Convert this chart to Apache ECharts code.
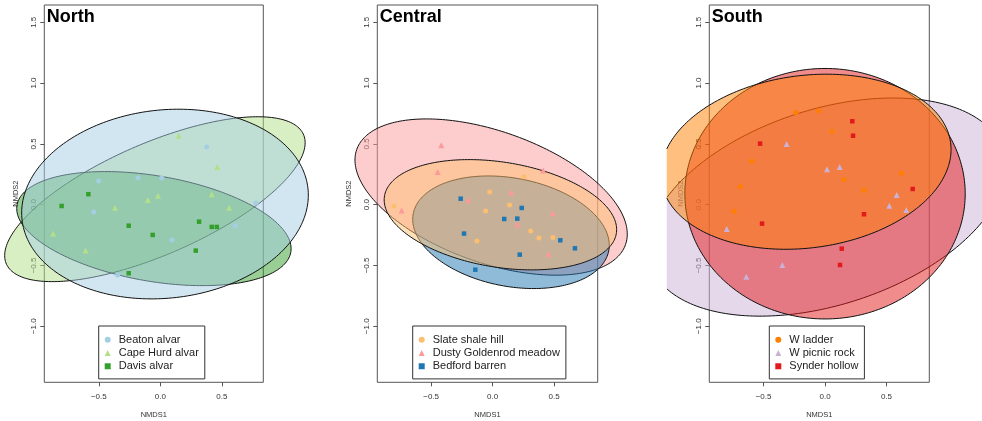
<!DOCTYPE html>
<html><head><meta charset="utf-8">
<script src="https://cdn.jsdelivr.net/npm/echarts@6/dist/echarts.min.js"></script>
<style>html,body{margin:0;padding:0;background:#fff}#c{width:982px;height:421px}</style>
</head><body><div id="c"></div>
<script>
// ---- categories / labels ----
const panelTitles = ['North', 'Central', 'South'];
const northGroups = ['Beaton alvar', 'Cape Hurd alvar', 'Davis alvar'];
const centralGroups = ['Slate shale hill', 'Dusty Goldenrod meadow', 'Bedford barren'];
const southGroups = ['W ladder', 'W picnic rock', 'Synder hollow'];
const xTickValues = [-0.5, 0, 0.5];
const yTickValues = [-1.0, -0.5, 0, 0.5, 1.0, 1.5];

// ---- site scores (NMDS1, NMDS2) ----
const beatonAlvar = [[0.377,0.474],[-0.501,0.195],[-0.181,0.220],[0.011,0.220],[-0.541,-0.060],[0.776,0.014],[0.610,-0.173],[0.095,-0.290],[-0.346,-0.578]];
const capeHurdAlvar = [[0.150,0.567],[0.461,0.310],[-0.102,0.039],[-0.019,0.074],[0.418,0.086],[-0.368,-0.025],[0.559,-0.025],[-0.872,-0.238],[-0.607,-0.378]];
const davisAlvar = [[-0.585,0.086],[-0.802,-0.011],[-0.257,-0.173],[-0.062,-0.249],[0.315,-0.140],[0.418,-0.183],[0.459,-0.183],[0.288,-0.378],[-0.257,-0.564]];

const slateShaleHill = [[-0.024,0.104],[0.254,0.230],[0.138,-0.002],[-0.057,-0.052],[-0.802,-0.011],[0.309,-0.216],[0.376,-0.274],[0.490,-0.271],[-0.128,-0.299]];
const dustyGoldenrodMeadow = [[-0.418,0.488],[-0.447,0.269],[0.411,0.280],[0.151,0.099],[-0.198,0.039],[-0.740,-0.049],[0.488,-0.071],[0.200,-0.161],[0.455,-0.405]];
const bedfordBarren = [[-0.260,0.049],[0.236,-0.027],[0.094,-0.118],[0.200,-0.115],[-0.233,-0.238],[0.550,-0.293],[0.669,-0.359],[0.220,-0.411],[-0.141,-0.535]];

const wLadder = [[-0.238,0.757],[-0.051,0.773],[0.057,0.603],[-0.596,0.357],[-0.688,0.148],[-0.740,-0.054],[0.154,0.206],[0.317,0.118],[0.620,0.258]];
const wPicnicRock = [[-0.312,0.499],[0.016,0.291],[0.119,0.310],[0.583,0.080],[0.523,-0.008],[0.661,-0.044],[-0.799,-0.200],[-0.347,-0.496],[-0.640,-0.592]];
const synderHollow = [[0.222,0.686],[0.228,0.567],[-0.528,0.502],[0.713,0.129],[0.317,-0.079],[-0.512,-0.156],[0.136,-0.362],[0.122,-0.496]];

// ---- group ellipses: [centerX, centerY, halfWidth, halfHeight, correlation] ----
const ellipseBeaton = [0.038, 0.005, 1.165, 0.780, 0.094];
const ellipseCapeHurd = [-0.044, 0.045, 1.221, 0.678, 0.684];
const ellipseDavis = [-0.052, -0.197, 1.115, 0.469, -0.352];
const ellipseSlate = [0.063, -0.083, 0.945, 0.4535, -0.27];
const ellipseDusty = [-0.0125, 0.0625, 1.107, 0.6425, -0.474];
const ellipseBedford = [0.149, -0.227, 0.799, 0.463, -0.23];
const ellipseWLadder = [-0.155, 0.353, 1.18, 0.72, 0.14];
const ellipseWPicnic = [0.0125, -0.02, 1.455, 0.897, 0.371];
const ellipseSynder = [0.0, 0.09, 1.14, 1.03, 0.0];

// ---- styling / layout ----
const colors = {
  'Beaton alvar': '#a6cee3', 'Cape Hurd alvar': '#b2df8a', 'Davis alvar': '#33a02c',
  'Slate shale hill': '#fdbf6f', 'Dusty Goldenrod meadow': '#fb9a99', 'Bedford barren': '#1f78b4',
  'W ladder': '#ff7f00', 'W picnic rock': '#cab2d6', 'Synder hollow': '#e31a1c'
};
const shapes = ['circle', 'triangle', 'rect'];
const symSizes = [5, 6, 4.5];
const FONT = '"Liberation Sans", Arial, sans-serif';

const panels = [
  { groups: northGroups, pts: [beatonAlvar, capeHurdAlvar, davisAlvar],
    ell: [ellipseBeaton, ellipseCapeHurd, ellipseDavis], order: [1, 2, 0],
    xMin: -0.943, xMax: 0.837, left: 44.3, width: 219, legLeft: 98.7, clipX: null },
  { groups: centralGroups, pts: [slateShaleHill, dustyGoldenrodMeadow, bedfordBarren],
    ell: [ellipseSlate, ellipseDusty, ellipseBedford], order: [1, 2, 0],
    xMin: -0.938, xMax: 0.854, left: 377.3, width: 220.4, legLeft: 412.7, clipX: null },
  { groups: southGroups, pts: [wLadder, wPicnicRock, synderHollow],
    ell: [ellipseWLadder, ellipseWPicnic, ellipseSynder], order: [1, 2, 0],
    xMin: -0.941, xMax: 0.848, left: 709.3, width: 220, legLeft: 769.3, clipX: -1.287 }
];
const yMin = -1.461, yMax = 1.642;

function rgba(hex, a) {
  const n = parseInt(hex.slice(1), 16);
  return 'rgba(' + (n >> 16 & 255) + ',' + (n >> 8 & 255) + ',' + (n & 255) + ',' + a + ')';
}
function fmt(v) { return v.toFixed(1).replace('-', '\u2212'); }

function ellipseRenderer(fill, clipX) {
  return function (params, api) {
    const cx = api.value(0), cy = api.value(1), hw = api.value(2), hh = api.value(3), r = api.value(4);
    const s = Math.sqrt(1 - r * r);
    const N = 240, pts = [];
    for (let i = 0; i < N; i++) {
      const t = 2 * Math.PI * i / N;
      pts.push(api.coord([cx + hw * Math.cos(t), cy + hh * (r * Math.cos(t) + s * Math.sin(t))]));
    }
    const stroke = '#111';
    if (clipX == null) {
      return { type: 'polygon', shape: { points: pts }, style: { fill: fill, stroke: stroke, lineWidth: 1 } };
    }
    const lim = api.coord([clipX, 0])[0];
    const fillPts = pts.map(p => [Math.max(p[0], lim), p[1]]);
    const segs = []; let cur = [];
    for (let i = 0; i <= N; i++) {
      const p = pts[i % N];
      if (p[0] >= lim) cur.push(p); else { if (cur.length > 1) segs.push(cur); cur = []; }
    }
    if (cur.length > 1) segs.push(cur);
    const children = [{ type: 'polygon', shape: { points: fillPts }, style: { fill: fill, stroke: null } }];
    segs.forEach(sg => children.push({ type: 'polyline', shape: { points: sg }, style: { stroke: stroke, lineWidth: 1, fill: null } }));
    return { type: 'group', children: children };
  };
}

const grid = [], xAxis = [], yAxis = [], series = [], legend = [], graphic = [];
panels.forEach((p, i) => {
  grid.push({ left: p.left, top: 5, width: p.width, height: 377.3, show: true,
    containLabel: false, outerBoundsMode: 'none',
    borderColor: '#555', borderWidth: 1, backgroundColor: 'transparent' });
  xAxis.push({ gridIndex: i, type: 'value', min: p.xMin, max: p.xMax,
    axisLine: { show: false, onZero: false }, splitLine: { show: false },
    axisTick: { show: true, length: 4, lineStyle: { color: '#555' }, customValues: xTickValues },
    axisLabel: { customValues: xTickValues, fontSize: 8, color: '#333', margin: 10, fontFamily: FONT, formatter: fmt },
    name: 'NMDS1', nameLocation: 'middle', nameGap: 29,
    nameTextStyle: { fontSize: 7.5, color: '#333', fontFamily: FONT } });
  yAxis.push({ gridIndex: i, type: 'value', min: yMin, max: yMax,
    axisLine: { show: false, onZero: false }, splitLine: { show: false },
    axisTick: { show: true, length: 4, lineStyle: { color: '#555' }, customValues: yTickValues },
    axisLabel: { customValues: yTickValues, fontSize: 8, color: '#333', margin: 7, rotate: 90, fontFamily: FONT, formatter: fmt },
    name: 'NMDS2', nameLocation: 'middle', nameGap: 24, nameRotate: 90,
    nameTextStyle: { fontSize: 7.5, color: '#333', fontFamily: FONT } });
  p.order.forEach(k => {
    series.push({ type: 'custom', name: p.groups[k] + ' ellipse', xAxisIndex: i, yAxisIndex: i,
      clip: false, silent: true, z: 2, dimensions: ['cx', 'cy', 'hw', 'hh', 'r'], encode: { x: 0, y: 1 },
      data: [p.ell[k]], renderItem: ellipseRenderer(rgba(colors[p.groups[k]], 0.5), p.clipX) });
  });
  p.groups.forEach((g, k) => {
    series.push({ type: 'scatter', name: g, xAxisIndex: i, yAxisIndex: i, z: 3,
      symbol: shapes[k], symbolSize: symSizes[k], itemStyle: { color: colors[g], opacity: 1 },
      data: p.pts[k] });
  });
  legend.push({ data: p.groups, orient: 'vertical', left: p.legLeft, top: 326,
    selectedMode: false, backgroundColor: '#fff', borderColor: '#333', borderWidth: 1,
    padding: [7, 6, 6, 6], itemWidth: 6, itemHeight: 6, itemGap: 0,
    textStyle: { fontSize: 11, color: '#222', lineHeight: 13.3, fontFamily: FONT, padding: [0, 0, 0, 3] } });
  graphic.push({ type: 'text', x: p.left + 2.4, y: 17, z: 10,
    style: { text: panelTitles[i], fontSize: 18, fontWeight: 'bold', fontFamily: FONT, fill: '#000',
      align: 'left', verticalAlign: 'middle', textAlign: 'left', textVerticalAlign: 'middle' } });
});

const chart = echarts.init(document.getElementById('c'), null, { renderer: 'canvas' });
chart.setOption({ animation: false, backgroundColor: '#fff', textStyle: { fontFamily: FONT },
  grid, xAxis, yAxis, series, legend, graphic });
</script></body></html>
